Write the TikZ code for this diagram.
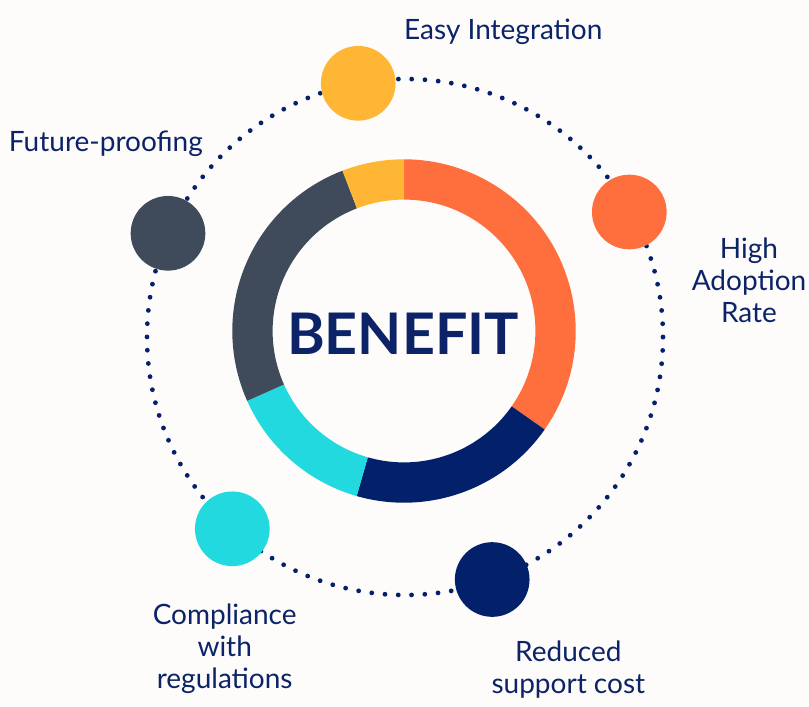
\documentclass[tikz,border=0pt]{standalone}
\usepackage{fontspec}
\setmainfont{Lato}
\definecolor{bOrange}{HTML}{FF6F3D}
\definecolor{bNavy}{HTML}{02216A}
\definecolor{bCyan}{HTML}{22D9DF}
\definecolor{bYellow}{HTML}{FFB634}
\definecolor{bGray}{HTML}{3F4A5B}
\definecolor{bText}{HTML}{0C2467}
\definecolor{bBack}{HTML}{FDFCFB}
\tikzset{
  bubble/.style={circle, minimum size=56pt, inner sep=0pt},
  label text/.style={text=bText, inner sep=0pt, font=\fontsize{21}{24}\selectfont, align=center},
}
\begin{document}
\begin{tikzpicture}[x=0.75pt, y=0.75pt]

\fill[bBack] (0,0) rectangle (809,-706);
\useasboundingbox (0,0) rectangle (809,-706);

\draw[bNavy, line width=3.6pt, line cap=round, dash pattern=on 0pt off 9.966pt] (405,-337) circle (258);

\begin{scope}[shift={(404,-331)}]
\fill[bOrange] (-35:171.7) arc (-35:90:171.7) -- (90:131.4) arc (90:-35:131.4) -- cycle;
\fill[bNavy] (-106:171.7) arc (-106:-35:171.7) -- (-35:131.4) arc (-35:-106:131.4) -- cycle;
\fill[bCyan] (-156:171.7) arc (-156:-106:171.7) -- (-106:131.4) arc (-106:-156:131.4) -- cycle;
\fill[bGray] (111:171.7) arc (111:204:171.7) -- (204:131.4) arc (204:111:131.4) -- cycle;
\fill[bYellow] (90:171.7) arc (90:111:171.7) -- (111:131.4) arc (111:90:131.4) -- cycle;
\end{scope}

\node [text=bText, inner sep=0pt, font=\fontsize{43}{47}\bfseries] (benefit) at (403,-334) {BENEFIT};

\node [bubble, fill=bYellow] (easy) at (358.2,-83.3) {};
\node [bubble, fill=bOrange] (adopt) at (629.3,-212) {};
\node [bubble, fill=bGray] (future) at (168,-233.3) {};
\node [bubble, fill=bCyan] (comply) at (232.3,-528.8) {};
\node [bubble, fill=bNavy] (support) at (492.2,-579.5) {};

\node [label text, anchor=base] (easylabel) at (503.3,-39.3) {Easy Integration};
\node [label text, anchor=base] (futurelabel) at (105.8,-151.7) {Future-proofing};
\node [label text] (adoptlabel) at (749,-280.5) {High\\Adoption\\Rate};
\node [label text] (complylabel) at (224.7,-648.5) {Compliance\\with\\regulations};
\node [label text] (supportlabel) at (568.3,-669.5) {Reduced\\support cost};
\end{tikzpicture}
\end{document}
